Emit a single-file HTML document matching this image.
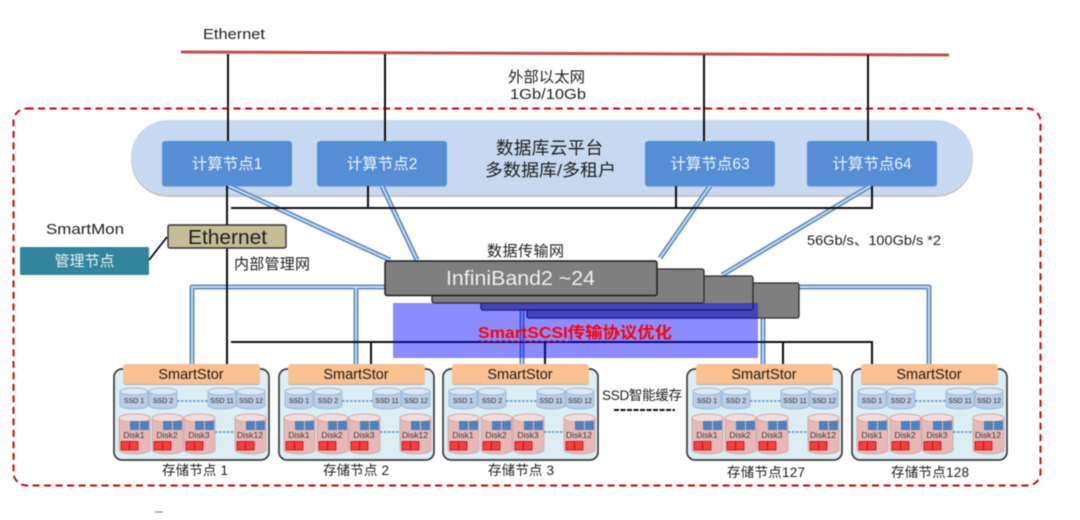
<!DOCTYPE html>
<html><head><meta charset="utf-8">
<style>
html,body{margin:0;padding:0;background:#fff;width:1080px;height:520px;overflow:hidden}
svg{display:block;filter:blur(0.5px)}
text{font-family:"Liberation Sans","Noto Sans CJK SC",sans-serif;fill:#1e1e1e}
.n{fill:#eef4fc;font-size:15.5px;text-anchor:middle}
.ss{font-size:14.5px;text-anchor:middle}
.sd{font-size:7px;text-anchor:middle;fill:#2c2c2c}
.dk{font-size:8.5px;text-anchor:middle;fill:#3a3a3a}
.lb{font-size:15px}
.bo{fill:none;stroke:#5f8fc9;stroke-width:5;stroke-linejoin:round}
.bi{fill:none;stroke:#dfeaf8;stroke-width:1.4;stroke-linejoin:round}
.k{fill:none;stroke:#0d0d0d;stroke-width:2}
</style></head><body>
<svg width="1080" height="520" viewBox="0 0 1080 520" xmlns="http://www.w3.org/2000/svg">
<defs>
<g id="ssd">
<path d="M0 3.5 A14 3.5 0 0 1 28 3.5 V17.5 A14 3.5 0 0 1 0 17.5 Z" fill="#b9cde5" stroke="#95b3d7" stroke-width=".8"/>
<ellipse cx="14" cy="3.500" rx="14" ry="3.500" fill="#dce6f2" stroke="#95b3d7" stroke-width=".8"/>
</g>
<g id="disk">
<path d="M0 4 A15.5 4 0 0 1 31 4 V36 A15.5 4 0 0 1 0 36 Z" fill="#e6b9b8" stroke="#d0a3a2" stroke-width=".8"/>
<ellipse cx="15.500" cy="4" rx="15.500" ry="4" fill="#f2dcdb" stroke="#d0a3a2" stroke-width=".8"/>
<rect x="11" y="7" width="9" height="9" fill="#4f81bd"/>
<rect x="21" y="7" width="9" height="9" fill="#4f81bd"/>
<rect x="2" y="27.500" width="8.500" height="8.500" fill="#f23f3f" stroke="#c00000" stroke-width=".7"/>
<rect x="10.500" y="27.500" width="8.500" height="8.500" fill="#f23f3f" stroke="#c00000" stroke-width=".7"/>
</g>
<g id="node">
<rect x="114" y="369" width="155" height="91" rx="8" fill="#dbeef4" stroke="#3c3c3c" stroke-width="1.700"/>
<rect x="123" y="365" width="137" height="20" rx="3" fill="#b3b3b3"/>
<rect x="123" y="364" width="137" height="20" rx="3" fill="#fac090"/>
<use href="#ssd" x="120" y="388"/><use href="#ssd" x="149" y="388"/>
<use href="#ssd" x="208" y="388"/><use href="#ssd" x="237" y="388"/>
<line x1="177" y1="401" x2="208" y2="401" stroke="#5f8fc9" stroke-width="1.400" stroke-dasharray="2.500 1.500"/>
<use href="#disk" x="119" y="414"/><use href="#disk" x="152" y="414"/>
<use href="#disk" x="184" y="414"/><use href="#disk" x="235" y="414"/>
<line x1="215" y1="432" x2="235" y2="432" stroke="#5f8fc9" stroke-width="1.400" stroke-dasharray="2.500 1.500"/>
</g>
</defs>

<!-- external ethernet -->
<line x1="181" y1="52" x2="949" y2="55" stroke="#c0504d" stroke-width="3"/>
<path class="k" d="M228 54V141M385 54V141M704 55V141M868 55V141"/>
<text x="203" y="39" font-size="14.500" textLength="62" lengthAdjust="spacingAndGlyphs">Ethernet</text>
<text class="lb" x="508" y="82" textLength="77" lengthAdjust="spacingAndGlyphs">外部以太网</text>
<text class="lb" x="510" y="99" textLength="76" lengthAdjust="spacingAndGlyphs">1Gb/10Gb</text>

<!-- dashed frame -->
<rect x="13.500" y="108.500" width="1027" height="377" rx="13" fill="none" stroke="#d00000" stroke-width="1.900" stroke-dasharray="7 4.500"/>

<!-- cloud platform -->
<rect x="131" y="122" width="842" height="75" rx="37" fill="#c4c4c4"/>
<rect x="131" y="120" width="842" height="75" rx="37" fill="#c6d9f0"/>
<path class="k" d="M228 108V141M385 108V141M704 108V141M868 108V141"/>
<rect x="162" y="142" width="130" height="45" rx="3" fill="#9fb0c6"/>
<rect x="317" y="142" width="130" height="45" rx="3" fill="#9fb0c6"/>
<rect x="645" y="142" width="130" height="45" rx="3" fill="#9fb0c6"/>
<rect x="807" y="142" width="130" height="45" rx="3" fill="#9fb0c6"/>
<rect x="162" y="141" width="130" height="45" rx="3" fill="#558ed5"/>
<rect x="317" y="141" width="130" height="45" rx="3" fill="#558ed5"/>
<rect x="645" y="141" width="130" height="45" rx="3" fill="#558ed5"/>
<rect x="807" y="141" width="130" height="45" rx="3" fill="#558ed5"/>
<text class="n" x="227" y="169">计算节点1</text>
<text class="n" x="382" y="169">计算节点2</text>
<text class="n" x="710" y="169">计算节点63</text>
<text class="n" x="872" y="169">计算节点64</text>
<text x="496" y="154" font-size="17.500" textLength="107">数据库云平台</text>
<text x="485" y="176" font-size="17" textLength="131" lengthAdjust="spacingAndGlyphs">多数据库/多租户</text>

<!-- storage nodes -->
<use href="#node"/>
<use href="#node" x="165"/>
<use href="#node" x="329"/>
<use href="#node" x="573"/>
<use href="#node" x="738"/>

<g id="t1">
<text class="ss" x="191" y="379">SmartStor</text>
<text class="sd" x="134" y="403">SSD 1</text><text class="sd" x="163" y="403">SSD 2</text><text class="sd" x="222" y="403">SSD 11</text><text class="sd" x="251" y="403">SSD 12</text>
<text class="dk" x="134" y="438">Disk1</text><text class="dk" x="167" y="438">Disk2</text><text class="dk" x="199" y="438">Disk3</text><text class="dk" x="250" y="438">Disk12</text>
</g>
<g transform="translate(165 0)">
<text class="ss" x="191" y="379">SmartStor</text>
<text class="sd" x="134" y="403">SSD 1</text><text class="sd" x="163" y="403">SSD 2</text><text class="sd" x="222" y="403">SSD 11</text><text class="sd" x="251" y="403">SSD 12</text>
<text class="dk" x="134" y="438">Disk1</text><text class="dk" x="167" y="438">Disk2</text><text class="dk" x="199" y="438">Disk3</text><text class="dk" x="250" y="438">Disk12</text>
</g>
<g transform="translate(329 0)">
<text class="ss" x="191" y="379">SmartStor</text>
<text class="sd" x="134" y="403">SSD 1</text><text class="sd" x="163" y="403">SSD 2</text><text class="sd" x="222" y="403">SSD 11</text><text class="sd" x="251" y="403">SSD 12</text>
<text class="dk" x="134" y="438">Disk1</text><text class="dk" x="167" y="438">Disk2</text><text class="dk" x="199" y="438">Disk3</text><text class="dk" x="250" y="438">Disk12</text>
</g>
<g transform="translate(573 0)">
<text class="ss" x="191" y="379">SmartStor</text>
<text class="sd" x="134" y="403">SSD 1</text><text class="sd" x="163" y="403">SSD 2</text><text class="sd" x="222" y="403">SSD 11</text><text class="sd" x="251" y="403">SSD 12</text>
<text class="dk" x="134" y="438">Disk1</text><text class="dk" x="167" y="438">Disk2</text><text class="dk" x="199" y="438">Disk3</text><text class="dk" x="250" y="438">Disk12</text>
</g>
<g transform="translate(738 0)">
<text class="ss" x="191" y="379">SmartStor</text>
<text class="sd" x="134" y="403">SSD 1</text><text class="sd" x="163" y="403">SSD 2</text><text class="sd" x="222" y="403">SSD 11</text><text class="sd" x="251" y="403">SSD 12</text>
<text class="dk" x="134" y="438">Disk1</text><text class="dk" x="167" y="438">Disk2</text><text class="dk" x="199" y="438">Disk3</text><text class="dk" x="250" y="438">Disk12</text>
</g>

<text x="162" y="475" font-size="13.500" textLength="66">存储节点 1</text>
<text x="323" y="475" font-size="13.500" textLength="66">存储节点 2</text>
<text x="488" y="475" font-size="13.500" textLength="66">存储节点 3</text>
<text x="727" y="477" font-size="13.500" textLength="78">存储节点127</text>
<text x="891" y="477" font-size="13.500" textLength="78">存储节点128</text>

<text x="602" y="400" font-size="13.500" textLength="80">SSD智能缓存</text>
<line x1="614" y1="410" x2="675" y2="410" stroke="#111" stroke-width="2" stroke-dasharray="5 1.500"/>

<!-- blue uplinks -->
<path class="bo" d="M229 186L390 260M382 186L417 260M710 186L660 258M870 186L722 275"/>
<path class="bi" d="M229 186L390 260M382 186L417 260M710 186L660 258M870 186L722 275"/>
<path class="bo" d="M192 364V287H390M356 287V364M795 287H929V364M522 305V364M763 315V364"/>
<path class="bi" d="M192 364V287H390M356 287V364M795 287H929V364M522 305V364M763 315V364"/>

<!-- black mgmt network -->
<path class="k" d="M231 208H872V186M368 186V208M676 186V208"/>
<path class="k" d="M227 186V226M227 248V364"/>
<path class="k" d="M231 342H872V364M371 342V364M545 342V364M783 342V364"/>
<line x1="149" y1="260" x2="167" y2="237" stroke="#0d0d0d" stroke-width="1.800"/>

<!-- ethernet switch and manager -->
<rect x="168" y="225" width="118" height="23" rx="1.500" fill="#c4bd97" stroke="#333" stroke-width="1.400"/>
<text x="188" y="244" font-size="20" textLength="79" lengthAdjust="spacingAndGlyphs">Ethernet</text>
<rect x="20" y="247" width="129" height="28" rx="1.500" fill="#31859c"/>
<text x="84.500" y="266" font-size="15" text-anchor="middle" style="fill:#e6f1f4">管理节点</text>
<text x="46" y="234" font-size="14.500" textLength="78" lengthAdjust="spacingAndGlyphs">SmartMon</text>
<text class="lb" x="234" y="269" textLength="76">内部管理网</text>

<!-- infiniband stack -->
<rect x="527" y="283" width="272" height="35" rx="2" fill="#7f7f7f" stroke="#2c2c2c" stroke-width="1.300"/>
<rect x="481" y="276" width="272" height="34" rx="2" fill="#7f7f7f" stroke="#2c2c2c" stroke-width="1.300"/>
<rect x="432" y="269" width="272" height="34" rx="2" fill="#7f7f7f" stroke="#2c2c2c" stroke-width="1.300"/>
<rect x="385" y="261" width="272" height="34.500" rx="2" fill="#7f7f7f" stroke="#1c1c1c" stroke-width="1.400"/>
<text x="446" y="285" font-size="20" textLength="149" lengthAdjust="spacingAndGlyphs" style="fill:#efefef">InfiniBand2 ~24</text>
<text class="lb" x="487" y="256" textLength="77">数据传输网</text>
<text x="807" y="245" font-size="14" textLength="134" lengthAdjust="spacingAndGlyphs">56Gb/s、100Gb/s *2</text>

<!-- overlay -->
<rect x="393" y="303" width="365" height="55" fill="#0000ff" fill-opacity=".45"/>
<text x="478" y="338" font-size="16" font-weight="bold" textLength="194" lengthAdjust="spacingAndGlyphs" style="fill:#ff0000">SmartSCSI传输协议优化</text>
<path d="M478 341q1.500 -1.500 3 0t3 0t3 0t3 0t3 0t3 0t3 0t3 0t3 0t3 0t3 0t3 0t3 0t3 0t3 0t3 0t3 0t3 0t3 0t3 0t3 0t3 0t3 0t3 0t3 0t3 0t3 0t3 0t3 0t3 0" fill="none" stroke="#e0304a" stroke-width=".7"/>

<line x1="155" y1="512" x2="163" y2="512" stroke="#777" stroke-width="1"/>
</svg>
</body></html>
